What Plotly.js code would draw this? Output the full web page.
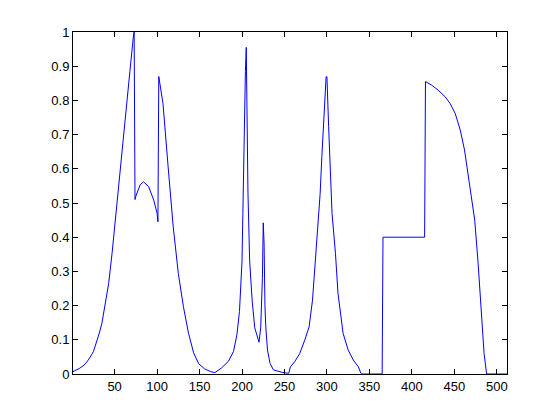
<!DOCTYPE html>
<html>
<head>
<meta charset="utf-8">
<script src="https://cdn.plot.ly/plotly-3.0.1.min.js"></script>
<style>
  html, body { margin: 0; padding: 0; background: #ffffff; }
  #chart { width: 560px; height: 420px; }
</style>
</head>
<body>
<div id="chart"></div>
<script>
// Sample index (x) and signal value (y)
var sampleX = [1, 9, 15, 19, 25, 29, 32, 35, 39, 43, 47, 50, 53, 58, 63, 68, 72, 73, 74, 75, 80, 84, 90, 96, 100, 101,
  102, 107, 113, 119, 125, 131, 137, 143, 149, 156, 163, 168, 176, 184, 190, 194, 197, 200, 201, 202, 203, 204,
  205, 206, 207, 209, 212, 215, 219, 220, 222, 224, 225, 226, 227, 228, 230, 233, 237, 247, 255, 257, 262, 268,
  274, 279, 283, 286, 289, 292, 294, 296, 298, 299, 300, 301, 302, 304, 306, 310, 313, 319, 325, 331, 337, 340,
  341, 365, 366, 415, 416, 423, 431, 439, 445, 451, 457, 462, 468, 474, 478, 482, 485, 488, 512];
var sampleY = [0.007, 0.017, 0.028, 0.041, 0.065, 0.095, 0.12, 0.148, 0.207, 0.265, 0.353, 0.43, 0.505, 0.651, 0.758, 0.885, 0.985, 1.0, 0.51, 0.52, 0.553, 0.562, 0.548, 0.509, 0.47, 0.445,
  0.87, 0.79, 0.606, 0.43, 0.294, 0.197, 0.119, 0.062, 0.03, 0.015, 0.007, 0.004, 0.018, 0.037, 0.066, 0.115, 0.183, 0.33, 0.47, 0.65, 0.80, 0.885,
  0.955, 0.75, 0.53, 0.33, 0.213, 0.135, 0.096, 0.093, 0.135, 0.28, 0.442, 0.38, 0.2, 0.138, 0.07, 0.031, 0.012, 0.005, 0.002, 0.021, 0.036, 0.06,
  0.10, 0.138, 0.216, 0.314, 0.41, 0.528, 0.636, 0.743, 0.83, 0.869, 0.869, 0.78, 0.723, 0.596, 0.47, 0.353, 0.236, 0.119, 0.07, 0.041, 0.021, 0.002,
  0, 0, 0.4, 0.4, 0.855, 0.845, 0.83, 0.811, 0.791, 0.762, 0.713, 0.655, 0.558, 0.45, 0.324, 0.187, 0.06, 0, 0];

var xTicks = [50, 100, 150, 200, 250, 300, 350, 400, 450, 500];
var yTicks = [0, 0.1, 0.2, 0.3, 0.4, 0.5, 0.6, 0.7, 0.8, 0.9, 1];
var yTickText = ['0', '0.1', '0.2', '0.3', '0.4', '0.5', '0.6', '0.7', '0.8', '0.9', '1'];

var trace = {
  x: sampleX,
  y: sampleY,
  type: 'scatter',
  mode: 'lines',
  line: { color: '#0000ff', width: 1 },
  hoverinfo: 'skip'
};

var axisCommon = {
  showgrid: false,
  zeroline: false,
  showline: true,
  linecolor: '#000000',
  linewidth: 1,
  mirror: 'ticks',
  ticks: 'inside',
  ticklen: 5,
  tickwidth: 1,
  tickcolor: '#000000',
  tickfont: { family: 'Liberation Sans, Arial, sans-serif', size: 13, color: '#000000' }
};

var layout = {
  width: 560,
  height: 420,
  margin: { l: 73, r: 53, t: 32, b: 46, pad: 0 },
  paper_bgcolor: '#ffffff',
  plot_bgcolor: '#ffffff',
  showlegend: false,
  xaxis: Object.assign({}, axisCommon, {
    range: [1, 512],
    tickmode: 'array',
    tickvals: xTicks,
    ticktext: xTicks.map(String)
  }),
  yaxis: Object.assign({}, axisCommon, {
    range: [0, 1],
    tickmode: 'array',
    tickvals: yTicks,
    ticktext: yTickText
  })
};

Plotly.newPlot('chart', [trace], layout, { staticPlot: true, displayModeBar: false });
</script>
</body>
</html>
